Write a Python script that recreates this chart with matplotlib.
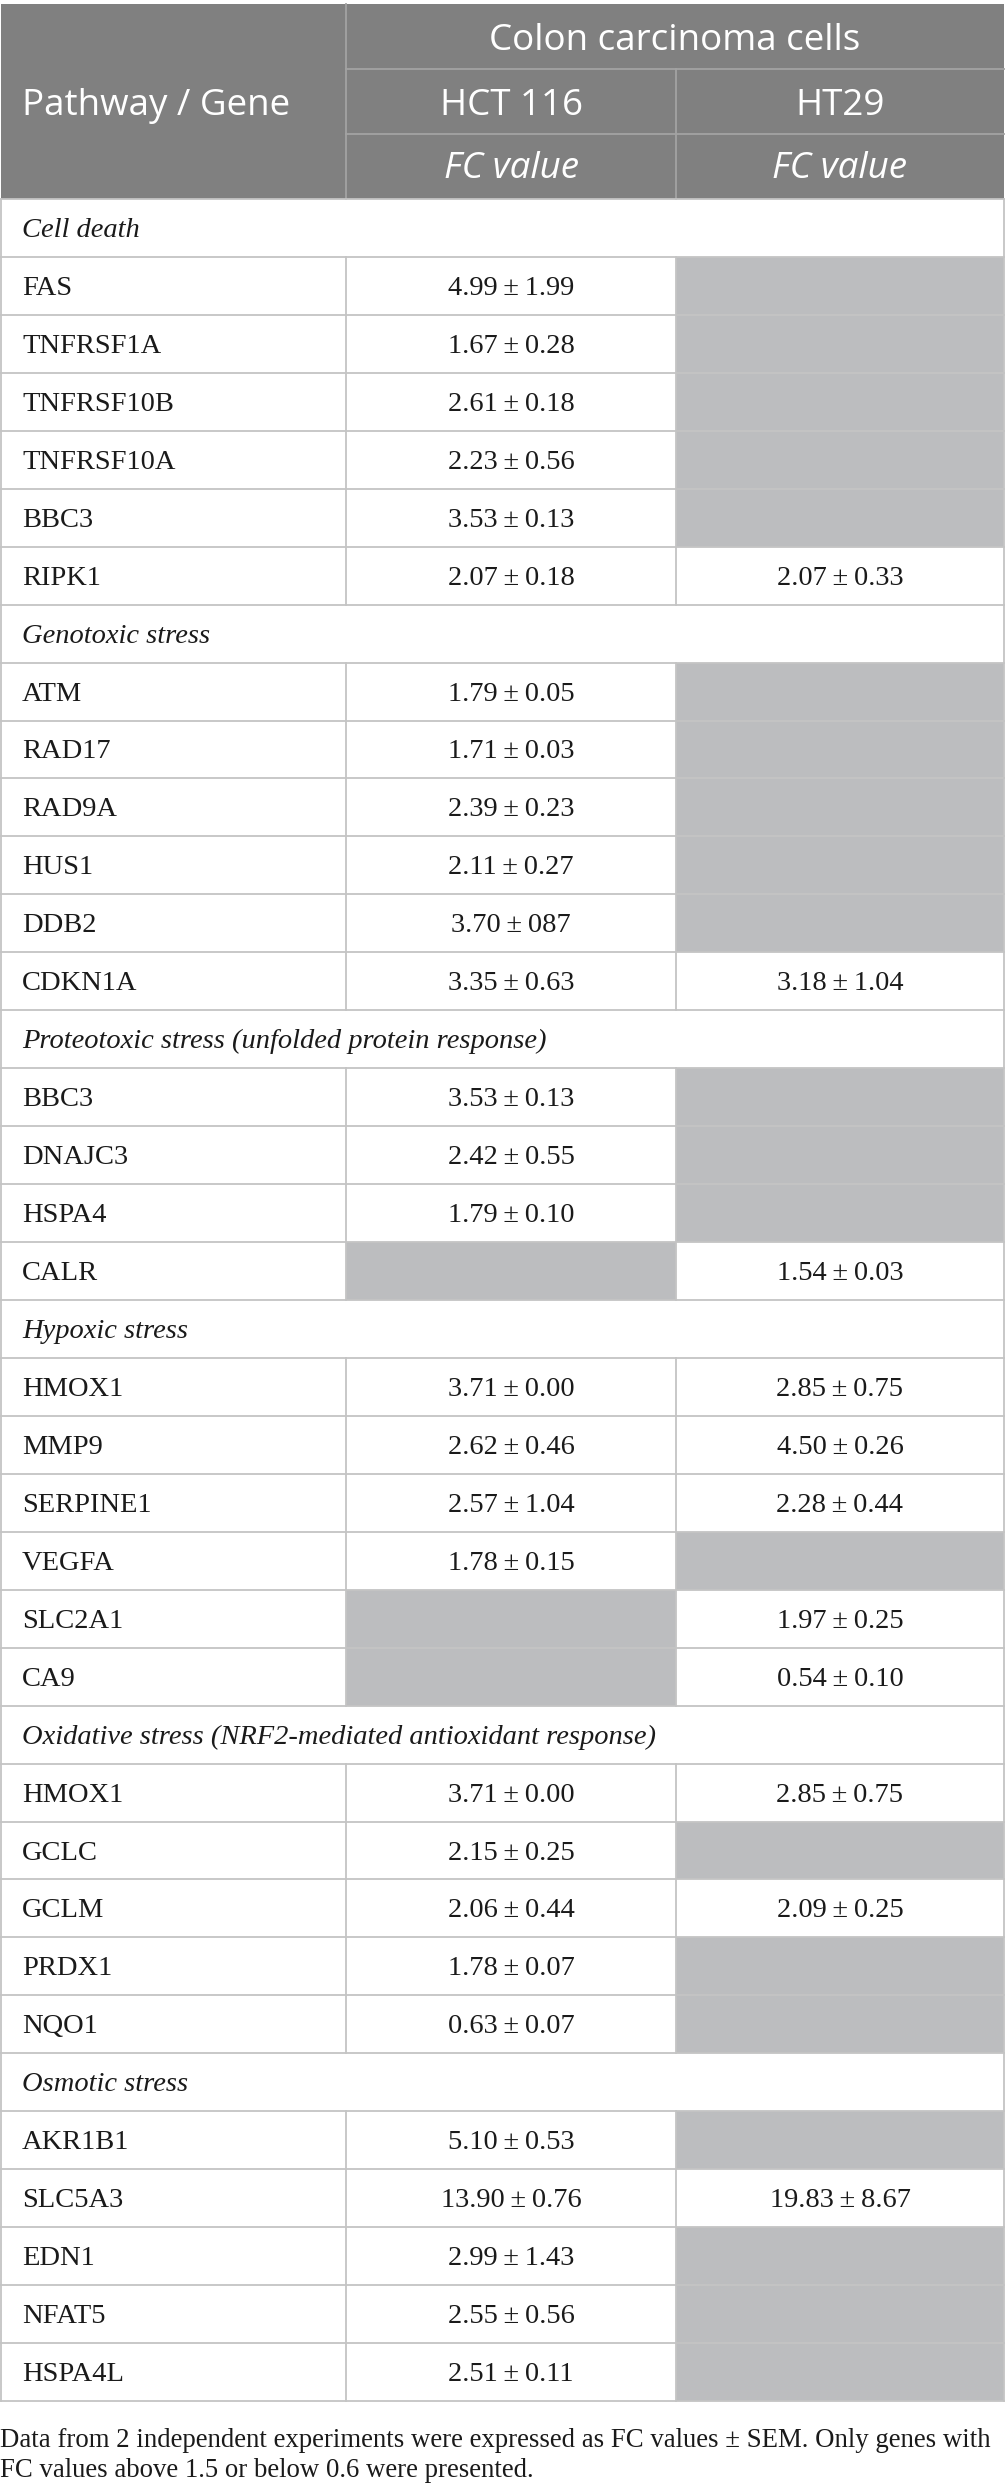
import matplotlib
matplotlib.use("Agg")
import matplotlib.pyplot as plt
from matplotlib.patches import Rectangle

# ---------------- data ----------------
sections = [
    "Cell death",
    "Genotoxic stress",
    "Proteotoxic stress (unfolded protein response)",
    "Hypoxic stress",
    "Oxidative stress (NRF2-mediated antioxidant response)",
    "Osmotic stress",
]
genes = [
    ["FAS", "TNFRSF1A", "TNFRSF10B", "TNFRSF10A", "BBC3", "RIPK1"],
    ["ATM", "RAD17", "RAD9A", "HUS1", "DDB2", "CDKN1A"],
    ["BBC3", "DNAJC3", "HSPA4", "CALR"],
    ["HMOX1", "MMP9", "SERPINE1", "VEGFA", "SLC2A1", "CA9"],
    ["HMOX1", "GCLC", "GCLM", "PRDX1", "NQO1"],
    ["AKR1B1", "SLC5A3", "EDN1", "NFAT5", "HSPA4L"],
]
# (mean, SEM) as printed; None = not presented (grey cell)
hct116 = [
    [("4.99", "1.99"), ("1.67", "0.28"), ("2.61", "0.18"), ("2.23", "0.56"), ("3.53", "0.13"), ("2.07", "0.18")],
    [("1.79", "0.05"), ("1.71", "0.03"), ("2.39", "0.23"), ("2.11", "0.27"), ("3.70", "087"), ("3.35", "0.63")],
    [("3.53", "0.13"), ("2.42", "0.55"), ("1.79", "0.10"), None],
    [("3.71", "0.00"), ("2.62", "0.46"), ("2.57", "1.04"), ("1.78", "0.15"), None, None],
    [("3.71", "0.00"), ("2.15", "0.25"), ("2.06", "0.44"), ("1.78", "0.07"), ("0.63", "0.07")],
    [("5.10", "0.53"), ("13.90", "0.76"), ("2.99", "1.43"), ("2.55", "0.56"), ("2.51", "0.11")],
]
ht29 = [
    [None, None, None, None, None, ("2.07", "0.33")],
    [None, None, None, None, None, ("3.18", "1.04")],
    [None, None, None, ("1.54", "0.03")],
    [("2.85", "0.75"), ("4.50", "0.26"), ("2.28", "0.44"), None, ("1.97", "0.25"), ("0.54", "0.10")],
    [("2.85", "0.75"), None, ("2.09", "0.25"), None, None],
    [None, ("19.83", "8.67"), None, None, None],
]
header_top = "Colon carcinoma cells"
header_left = "Pathway / Gene"
cell_lines = ["HCT 116", "HT29"]
sub_header = "FC value"
footnote = ["Data from 2 independent experiments were expressed as FC values \u00b1 SEM. Only genes with",
            "FC values above 1.5 or below 0.6 were presented."]

# ---------------- layout ----------------
W, H = 1005, 2491
fig = plt.figure(figsize=(W / 100, H / 100), dpi=100)
ax = fig.add_axes([0, 0, 1, 1])
ax.set_xlim(0, W)
ax.set_ylim(H, 0)
ax.axis("off")

HDR_BG = "#808080"
HDR_LINE = "#a3a3a3"
GRID = "#c4c4c4"
GREY = "#bcbdbf"
TXT = "#1a1a1a"
SERIF = ["Liberation Serif", "DejaVu Serif"]
SANS = ["Open Sans", "DejaVu Sans"]

x0, x1, x2, x3 = 1, 346, 676, 1004
top = 4
hrow = 65
hdr_bottom = 199
row_h = (2401 - hdr_bottom) / 38
lw = 1.3

# header background
ax.add_patch(Rectangle((x0, top), x3 - x0, hdr_bottom - top, facecolor=HDR_BG, edgecolor="none"))
# header inner lines
ax.plot([x1, x1], [top, hdr_bottom], color=HDR_LINE, lw=lw)
ax.plot([x2, x2], [top + hrow, hdr_bottom], color=HDR_LINE, lw=lw)
ax.plot([x1, x3], [top + hrow, top + hrow], color=HDR_LINE, lw=lw)
ax.plot([x1, x3], [top + 2 * hrow, top + 2 * hrow], color=HDR_LINE, lw=lw)

hfs = 26.5
ax.text((x1 + x3) / 2, top + hrow / 2 + 13.5, header_top, color="white", fontsize=hfs,
        family=SANS, ha="center", va="baseline")
ax.text(22, 115, header_left, color="white", fontsize=hfs, family=SANS, ha="left", va="baseline")
for (a, b), name in zip([(x1, x2), (x2, x3)], cell_lines):
    ax.text((a + b) / 2, top + hrow * 1.5 + 13.5, name, color="white", fontsize=hfs,
            family=SANS, ha="center", va="baseline")
    ax.text((a + b) / 2, top + hrow * 2.5 + 12, sub_header, color="white", fontsize=hfs,
            family=SANS, style="italic", ha="center", va="baseline")

bfs = 20.5
y = hdr_bottom
hlines = [y]
for s_i, sec in enumerate(sections):
    ax.text(22, y + row_h / 2 + 9, sec, fontsize=bfs, family=SERIF, style="italic",
            color=TXT, ha="left", va="baseline")
    y += row_h
    hlines.append(y)
    for g_i, g in enumerate(genes[s_i]):
        ax.text(22, y + row_h / 2 + 9, g, fontsize=bfs, family=SERIF, color=TXT,
                ha="left", va="baseline")
        for (a, b), vals in zip([(x1, x2), (x2, x3)], [hct116, ht29]):
            v = vals[s_i][g_i]
            if v is None:
                ax.add_patch(Rectangle((a, y), b - a, row_h, facecolor=GREY, edgecolor="none"))
            else:
                ax.text((a + b) / 2, y + row_h / 2 + 9, f"{v[0]}\u2009\u00b1\u2009{v[1]}",
                        fontsize=bfs, family=SERIF, color=TXT, ha="center", va="baseline")
        # vertical dividers for gene row
        ax.plot([x1, x1], [y, y + row_h], color=GRID, lw=lw)
        ax.plot([x2, x2], [y, y + row_h], color=GRID, lw=lw)
        y += row_h
        hlines.append(y)

for hy in hlines:
    ax.plot([x0, x3], [hy, hy], color=GRID, lw=lw)
ax.plot([x0, x0], [hdr_bottom, y], color=GRID, lw=lw)
ax.plot([x3, x3], [hdr_bottom, y], color=GRID, lw=lw)

ffs = 19.3
ax.text(0, 2447, footnote[0], fontsize=ffs, family=SERIF, color=TXT, ha="left", va="baseline")
ax.text(0, 2477, footnote[1], fontsize=ffs, family=SERIF, color=TXT, ha="left", va="baseline")

fig.savefig("out.png", dpi=100, facecolor="white")
